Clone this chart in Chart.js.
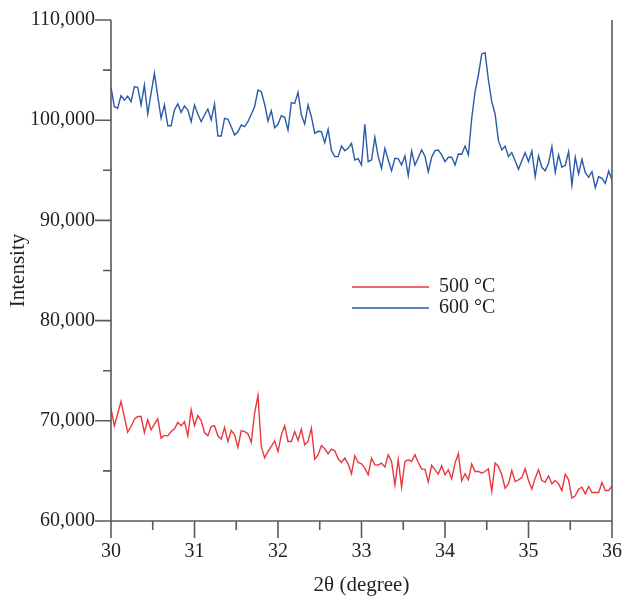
<!DOCTYPE html>
<html>
<head>
<meta charset="utf-8">
<script src="https://cdn.jsdelivr.net/npm/chart.js@4.4.0/dist/chart.umd.min.js"></script>
<style>
  html, body { margin: 0; padding: 0; background: #ffffff; }
  #wrap { width: 624px; height: 596px; }
</style>
</head>
<body>
<div id="wrap"><canvas id="c" width="624" height="596"></canvas></div>
<script>
// ---- data ----
const twoThetaStart = 30;
const twoThetaStep = 0.04;
const seriesLabels = ['500 °C', '600 °C'];
const intensity500 = [
  71250, 69500, 70700, 71930, 70400, 68870, 69430, 70170, 70430, 70430,
  68830, 70100, 69100, 69670, 70200, 68270, 68540, 68500, 68930, 69200,
  69830, 69500, 69930, 68500, 71100, 69530, 70530, 70030, 68830, 68500,
  69430, 69500, 68500, 68170, 69330, 67940, 69030, 68600, 67340, 69030,
  68930, 68700, 67870, 70770, 72530, 67440, 66300, 66940, 67440, 68000,
  66940, 68600, 69500, 67940, 67940, 68930, 68030, 69170, 67600, 67940,
  69270, 66170, 66600, 67530, 67210, 66710, 67170, 67010, 66210, 65840,
  66280, 65710, 64710, 66510, 65840, 65710, 65280, 64610, 66280, 65610,
  65580, 65780, 65380, 66610, 65940, 63610, 66110, 63380, 65940, 66110,
  65940, 66610, 65840, 65180, 65180, 63900, 65560, 65110, 64680, 65510,
  64610, 65110, 64210, 65780, 66710, 64010, 64710, 64110, 65680, 64940,
  64940, 64770, 64940, 65210, 62950, 65780, 65440, 64610, 63280, 63710,
  65040, 63940, 64110, 64340, 65210, 64040, 63180, 64280, 65110, 64040,
  63880, 64510, 63710, 64040, 63710, 63040, 64680, 64110, 62280, 62520,
  63180, 63380, 62710, 63440, 62840, 62840, 62840, 63840, 63040, 63040,
  63510
];
const intensity600 = [
  103300, 101350, 101190, 102450, 102000, 102400, 101850, 103340, 103280, 101520,
  103510, 100620, 102700, 104680, 102400, 100190, 101520, 99450, 99450, 101020,
  101620, 100790, 101420, 101020, 99850, 101520, 100620, 99850, 100520, 101120,
  100020, 101620, 98420, 98420, 100190, 100090, 99350, 98520, 98850, 99520,
  99350, 99850, 100590, 101350, 103010, 102840, 101600, 99920, 100950, 99250,
  99590, 100450, 100290, 99020, 101750, 101680, 102780, 100520, 99620, 101520,
  100350, 98690, 98890, 98850, 97760, 99090, 96960, 96360, 96360, 97420,
  96960, 97190, 97690, 96030, 96160, 95530, 99590, 95860, 96030, 98290,
  96360, 95200, 97190, 96030, 94960, 96200, 96160, 95530, 96430, 94460,
  96930, 95530, 96260, 97030, 96400, 94860, 96300, 96960, 97030, 96530,
  95860, 96300, 96300, 95530, 96630, 96600, 97420, 96530, 100190, 102840,
  104510, 106610, 106740, 104010, 101850, 100620, 97960, 97030, 97420, 96360,
  96760, 95960, 95100, 95960, 96760, 95860, 96930, 94360, 96430, 95300,
  94960, 95700, 97360, 94800, 96530, 95300, 95500, 96860, 93530, 96300,
  94630, 96100, 94760, 94300, 94860, 93270, 94360, 94200, 93700, 94930,
  94030
];
const xMin = 30, xMax = 36, xMajorStep = 1, xMinorStep = 0.5;
const yMin = 60000, yMax = 110000, yMajorStep = 10000, yMinorStep = 5000;

// ---- style ----
const textColor = '#231f20';
const axisColor = '#5a5a5c';
const colors = ['#e8383d', '#2a5aa8'];
const fontFamily = "'Liberation Serif', 'DejaVu Serif', serif";

function toPoints(values) {
  return values.map((v, i) => ({ x: +(twoThetaStart + i * twoThetaStep).toFixed(4), y: v }));
}

const axesPlugin = {
  id: 'axesPlugin',
  afterDraw(chart) {
    const { ctx, chartArea: a, scales: { x, y } } = chart;
    ctx.save();
    ctx.strokeStyle = axisColor;
    ctx.lineWidth = 1.6;
    ctx.lineCap = 'butt';
    ctx.beginPath();
    ctx.moveTo(a.left, a.top); ctx.lineTo(a.left, a.bottom);
    ctx.moveTo(a.left, a.bottom); ctx.lineTo(a.right, a.bottom);
    ctx.moveTo(a.right, a.top); ctx.lineTo(a.right, a.bottom);
    const ny = Math.round((yMax - yMin) / yMinorStep);
    for (let k = 0; k <= ny; k++) {
      const v = yMin + k * yMinorStep;
      const py = y.getPixelForValue(v);
      const len = (v % yMajorStep === 0) ? 16 : 8;
      ctx.moveTo(a.left - len, py); ctx.lineTo(a.left, py);
    }
    const nx = Math.round((xMax - xMin) / xMinorStep);
    for (let k = 0; k <= nx; k++) {
      const v = xMin + k * xMinorStep;
      const px = x.getPixelForValue(v);
      const len = (k % 2 === 0) ? 17 : 9;
      ctx.moveTo(px, a.bottom); ctx.lineTo(px, a.bottom + len);
    }
    ctx.stroke();

    // legend
    const lx0 = 352, lx1 = 429, tx = 439;
    const rows = [287, 308];
    ctx.font = '20px ' + fontFamily;
    ctx.textBaseline = 'middle';
    ctx.textAlign = 'left';
    chart.data.datasets.forEach((ds, i) => {
      ctx.strokeStyle = ds.borderColor;
      ctx.lineWidth = 1.3;
      ctx.beginPath();
      ctx.moveTo(lx0, rows[i]); ctx.lineTo(lx1, rows[i]);
      ctx.stroke();
      ctx.fillStyle = textColor;
      ctx.fillText(ds.label, tx, rows[i]);
    });
    ctx.restore();
  }
};

Chart.defaults.font.family = fontFamily;
Chart.defaults.color = textColor;

new Chart(document.getElementById('c'), {
  type: 'line',
  data: {
    datasets: [
      { label: seriesLabels[0], data: toPoints(intensity500), borderColor: colors[0], borderWidth: 1.4, pointRadius: 0, tension: 0, fill: false },
      { label: seriesLabels[1], data: toPoints(intensity600), borderColor: colors[1], borderWidth: 1.4, pointRadius: 0, tension: 0, fill: false }
    ]
  },
  options: {
    responsive: false,
    animation: false,
    devicePixelRatio: 1,
    layout: { padding: { left: 0, right: 12, top: 20, bottom: 0 } },
    plugins: { legend: { display: false }, tooltip: { enabled: false } },
    scales: {
      x: {
        type: 'linear',
        min: xMin, max: xMax,
        grid: { display: false, drawTicks: false },
        border: { display: false },
        ticks: { stepSize: xMajorStep, padding: 19, font: { size: 20 }, color: textColor, maxRotation: 0 },
        title: { display: true, text: '2θ (degree)', font: { size: 21, lineHeight: 1 }, color: textColor, padding: { top: 0, bottom: 0 } },
        afterFit(scale) { scale.height = 75; scale.paddingLeft = 0; scale.paddingRight = 0; }
      },
      y: {
        type: 'linear',
        min: yMin, max: yMax,
        grid: { display: false, drawTicks: false },
        border: { display: false },
        ticks: { stepSize: yMajorStep, padding: 16, font: { size: 20 }, color: textColor,
          callback: (v) => v.toLocaleString('en-US') },
        title: { display: true, text: 'Intensity', font: { size: 21, lineHeight: 1 }, color: textColor, padding: { top: 8, bottom: 0 } },
        afterFit(scale) { scale.width = 111; scale.paddingTop = 0; scale.paddingBottom = 0; }
      }
    }
  },
  plugins: [axesPlugin]
});
</script>
</body>
</html>
